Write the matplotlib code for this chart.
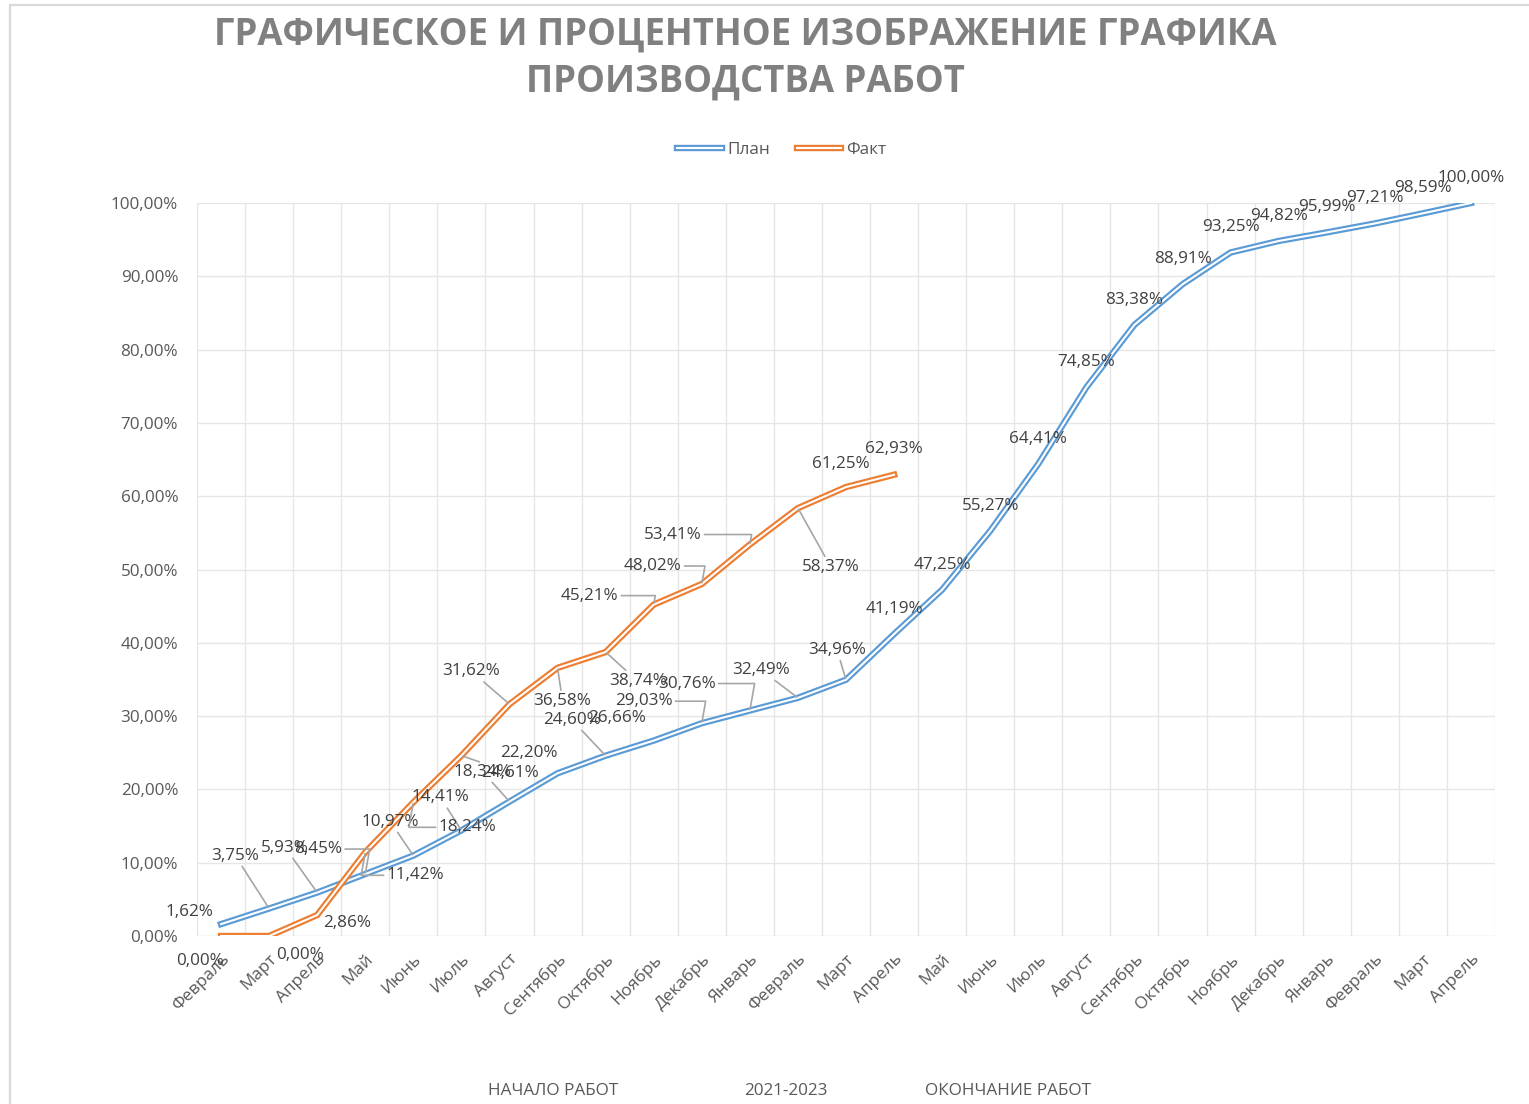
import matplotlib
matplotlib.use("Agg")
import matplotlib.pyplot as plt
import matplotlib.patheffects as pe
from matplotlib.patches import Rectangle

# ---------------------------------------------------------------------------
# DATA
# ---------------------------------------------------------------------------
months = ["Февраль", "Март", "Апрель", "Май", "Июнь", "Июль", "Август",
          "Сентябрь", "Октябрь", "Ноябрь", "Декабрь", "Январь", "Февраль",
          "Март", "Апрель", "Май", "Июнь", "Июль", "Август", "Сентябрь",
          "Октябрь", "Ноябрь", "Декабрь", "Январь", "Февраль", "Март", "Апрель"]

plan = [1.62, 3.75, 5.93, 8.45, 10.97, 14.41, 18.34, 22.20, 24.60, 26.66,
        29.03, 30.76, 32.49, 34.96, 41.19, 47.25, 55.27, 64.41, 74.85, 83.38,
        88.91, 93.25, 94.82, 95.99, 97.21, 98.59, 100.00]

fact = [0.00, 0.00, 2.86, 11.42, 18.24, 24.61, 31.62, 36.58, 38.74, 45.21,
        48.02, 53.41, 58.37, 61.25, 62.93]

y_ticks = [0, 10, 20, 30, 40, 50, 60, 70, 80, 90, 100]

title = "ГРАФИЧЕСКОЕ И ПРОЦЕНТНОЕ ИЗОБРАЖЕНИЕ ГРАФИКА\nПРОИЗВОДСТВА РАБОТ"
bottom_notes = ["НАЧАЛО РАБОТ", "2021-2023", "ОКОНЧАНИЕ РАБОТ"]

# label offsets in pixels (dx, dy) from the point, and leader style
plan_lbl = [(-32, 12, None), (-34, 53, "s"), (-32, 45, "s"), (-47, 25, "b"),
            (-23, 34, "s"), (-21, 33, "s"), (-27, 30, "s"), (-29, 20, None),
            (-34, 36, "s"), (-37, 23, None), (-58, 22, "b"), (-63, 27, "b"),
            (-37, 28, "s"), (-9, 30, "s")] + [(0, 25, None)] * 13
fact_lbl = [(-21, -25, None), (31, -19, None), (30, -8, None), (50, -23, "b"),
            (54, -25, "b"), (49, -17, "s"), (-38, 33, "s"), (5, -33, "s"),
            (32, -29, "s"), (-64, 9, "b"), (-49, 18, "b"), (-77, 10, "b"),
            (33, -59, "s"), (-5, 23, None), (0, 26, None)]

BLUE = "#5B9BD5"
ORANGE = "#ED7D31"
TXT = "#595959"
LBL = "#404040"
GRID = "#e6e6e6"
FONT = ["Open Sans", "DejaVu Sans"]
FS = 12.3

plt.rcParams["font.family"] = FONT

W, H = 1529, 1104
fig = plt.figure(figsize=(W / 100, H / 100), dpi=100)

# chart-area frame (left/top edges visible)
fig.patches.append(Rectangle((10 / W, -0.1), 1.2, 1 - 5 / H + 0.1,
                             transform=fig.transFigure, fill=False,
                             edgecolor="#d9d9d9", lw=1.6))

ax = fig.add_axes([197 / W, 1 - 936 / H, (1495 - 197) / W, (936 - 203) / H])

n = len(months)
ax.set_xlim(-0.5, n - 0.5)
ax.set_ylim(0, 100)

for x in range(n + 1):
    ax.axvline(x - 0.5, color=GRID, lw=1.0, zorder=0)
for y in y_ticks:
    ax.axhline(y, color=GRID if y else "#d9d9d9", lw=1.0, zorder=0)

for s in ax.spines.values():
    s.set_visible(False)

ax.set_yticks(y_ticks)
ax.set_yticklabels([f"{v:.2f}%".replace(".", ",") for v in y_ticks],
                   fontsize=FS, color=TXT)
ax.set_xticks(range(n))
ax.set_xticklabels(months, rotation=45, ha="right", va="top",
                   rotation_mode="anchor", fontsize=FS, color=TXT)
ax.tick_params(axis="both", length=0)
ax.tick_params(axis="x", pad=11)
ax.tick_params(axis="y", pad=13.5)


def double(color):
    return [pe.Stroke(linewidth=4.6, foreground=color), pe.Normal()]


ax.plot(range(len(plan)), plan, color="white", lw=1.5,
        path_effects=double(BLUE), label="План", zorder=3, solid_joinstyle="miter")
ax.plot(range(len(fact)), fact, color="white", lw=1.5,
        path_effects=double(ORANGE), label="Факт", zorder=4, solid_joinstyle="miter")


def put_labels(values, specs):
    for i, (v, (dx, dy, kind)) in enumerate(zip(values, specs)):
        txt = f"{v:.2f}%".replace(".", ",")
        kw = dict(xy=(i, v), xytext=(dx, dy), textcoords="offset pixels",
                  ha="center", va="center", fontsize=FS, color=LBL,
                  zorder=6, annotation_clip=False)
        if kind == "s":
            kw["arrowprops"] = dict(arrowstyle="-", color="#a6a6a6", lw=1.2,
                                    shrinkA=0, shrinkB=1)
        elif kind == "b":
            kw["arrowprops"] = dict(arrowstyle="-", color="#a6a6a6", lw=1.2,
                                    shrinkA=0, shrinkB=1,
                                    connectionstyle="angle,angleA=0,angleB=80,rad=0")
        ax.annotate(txt, **kw)


put_labels(plan, plan_lbl)
put_labels(fact, fact_lbl)

leg = fig.legend(loc="center", bbox_to_anchor=(782 / W, 1 - 150 / H), ncol=2,
                 frameon=False, fontsize=FS, handlelength=2.6, columnspacing=1.6,
                 handletextpad=0.3)
for t in leg.get_texts():
    t.set_color(TXT)

fig.text(745 / W, 1 - 58 / H, title, ha="center", va="center", fontsize=26.3,
         fontweight="bold", color="#808080", linespacing=1.3)

for xpix, s in zip([553, 786, 1008], bottom_notes):
    fig.text(xpix / W, 1 - 1091 / H, s, ha="center", va="center",
             fontsize=FS, color=TXT)

fig.savefig("out.png", dpi=100)
